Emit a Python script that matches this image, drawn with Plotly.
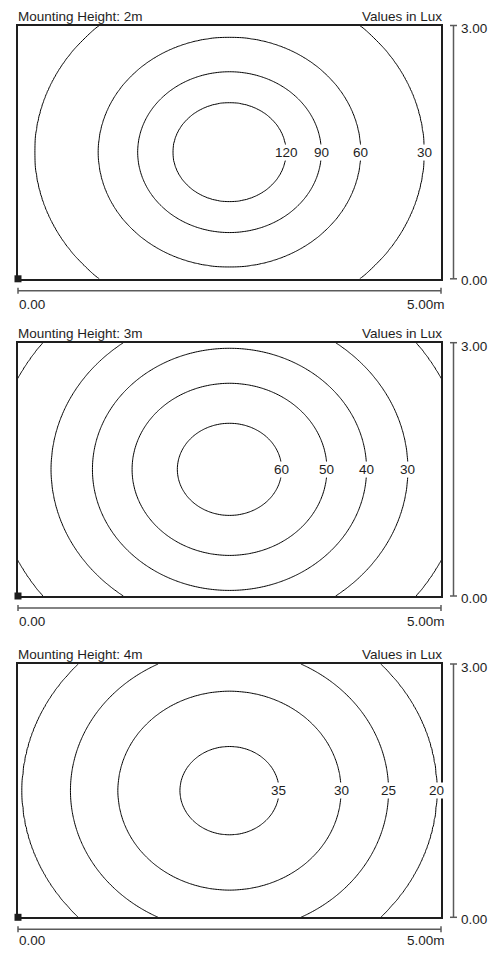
import numpy as np
import plotly.graph_objects as go

# page window and the browser's default 8px body margin
PAGE_W, PAGE_H = 497, 956
OFF = 8
W, H = PAGE_W - OFF, PAGE_H - 2 * OFF

# Room size (m)
room_len = 5.0
room_wid = 3.0

panel_titles = ["Mounting Height: 2m", "Mounting Height: 3m", "Mounting Height: 4m"]
units_text = "Values in Lux"

# Isolux levels (lux) and the half-width (m) of each isoline measured along the centre line
levels_2m = [120, 90, 60, 30]
halfwidth_2m = [0.67, 1.085, 1.55, 2.30]
levels_3m = [60, 50, 40, 30, 20]
halfwidth_3m = [0.617, 1.152, 1.62, 2.108, 2.78]
levels_4m = [35, 30, 25, 20]
halfwidth_4m = [0.585, 1.32, 1.88, 2.45]
# labelled levels per panel
labels_2m = [120, 90, 60, 30]
labels_3m = [60, 50, 40, 30]
labels_4m = [35, 30, 25, 20]
# estimated peak (centre) values, and isoline aspect (half-width / half-height)
peak = [150, 70, 40]
aspect = [1.14, 1.13, 1.12]

panels = [
    (levels_2m, halfwidth_2m, labels_2m),
    (levels_3m, halfwidth_3m, labels_3m),
    (levels_4m, halfwidth_4m, labels_4m),
]

# target page-pixel layout
left_px, right_px = 18.0, 441.0
tops_px = [25.5, 342.7, 664.0]
ph = 253.3
title_off = [9.5, 9.5, 9.5]
bottom_lab_off = [25.3, 25.5, 23.0]


def py(p):
    return 1 - (p - OFF) / H


def px(p):
    return (p - OFF) / W


fig = go.Figure()
xs = np.linspace(0, room_len, 251)
ys = np.linspace(0, room_wid, 151)
XX, YY = np.meshgrid(xs, ys)
cx, cy = room_len / 2, room_wid / 2

ink = "#1e1e1e"
dim = "#5a5a5a"
font = dict(family="Liberation Sans, Arial, sans-serif", size=13.5, color=ink)

shapes = []
annotations = []

for i, (lev, hw, labs) in enumerate(panels):
    n = i + 1
    xa = "x" if n == 1 else f"x{n}"
    ya = "y" if n == 1 else f"y{n}"
    r = np.sqrt((XX - cx) ** 2 + ((YY - cy) * aspect[i]) ** 2)
    step = lev[0] - lev[1]
    rr = [0.0] + hw + [hw[-1] + 1.5]
    zz = [peak[i]] + lev + [lev[-1] - step * 0.9]
    Z = np.interp(r, rr, zz)
    fig.add_trace(go.Contour(
        x=xs, y=ys, z=Z, xaxis=xa, yaxis=ya,
        contours=dict(coloring="lines", start=min(lev), end=max(lev), size=step, showlabels=False),
        line=dict(color="black", width=1, smoothing=1),
        colorscale=[[0, "black"], [1, "black"]], showscale=False, hoverinfo="skip",
    ))
    # origin marker
    fig.add_trace(go.Scatter(x=[0], y=[0], xaxis=xa, yaxis=ya, mode="markers",
                             marker=dict(symbol="square", size=7, color=ink),
                             cliponaxis=False, hoverinfo="skip", showlegend=False))
    # contour labels on the right-hand crossing of the centre line
    for lv in labs:
        k = lev.index(lv)
        annotations.append(dict(x=cx + hw[k], y=cy, xref=xa, yref=ya, text=str(lv),
                                showarrow=False, bgcolor="white", borderpad=0,
                                font=font, xanchor="center", yanchor="middle"))
    top = tops_px[i]
    bot = top + ph
    suffix = "" if n == 1 else str(n)
    fig.layout[f"xaxis{suffix}"] = dict(domain=[px(left_px), px(right_px)], range=[0, room_len],
                                        showgrid=False, zeroline=False, showticklabels=False, ticks="",
                                        showline=True, mirror=True, linecolor=ink, linewidth=1.6,
                                        anchor=ya, fixedrange=True)
    fig.layout[f"yaxis{suffix}"] = dict(domain=[py(bot), py(top)], range=[0, room_wid],
                                        showgrid=False, zeroline=False, showticklabels=False, ticks="",
                                        showline=True, mirror=True, linecolor=ink, linewidth=1.6,
                                        anchor=xa, fixedrange=True)
    # titles
    annotations.append(dict(x=px(16.5), y=py(top - title_off[i]), xref="paper", yref="paper",
                            text=panel_titles[i], showarrow=False, xanchor="left", yanchor="middle",
                            borderpad=0, font=font))
    annotations.append(dict(x=px(442.5), y=py(top - title_off[i]), xref="paper", yref="paper",
                            text=units_text, showarrow=False, xanchor="right", yanchor="middle",
                            borderpad=0, font=font))
    # bottom dimension line
    ydl = bot + 12
    shapes.append(dict(type="line", xref="paper", yref="paper", x0=px(left_px), x1=px(right_px),
                       y0=py(ydl), y1=py(ydl), line=dict(color=dim, width=1.5)))
    for xx in (left_px, right_px):
        shapes.append(dict(type="line", xref="paper", yref="paper", x0=px(xx), x1=px(xx),
                           y0=py(ydl - 3), y1=py(ydl + 3), line=dict(color=dim, width=1.5)))
    annotations.append(dict(x=px(17.5), y=py(bot + bottom_lab_off[i]), xref="paper", yref="paper",
                            text=f"{0:.2f}", showarrow=False, xanchor="left", yanchor="middle",
                            borderpad=0, font=font))
    annotations.append(dict(x=px(446), y=py(bot + bottom_lab_off[i]), xref="paper", yref="paper",
                            text=f"{room_len:.2f}m", showarrow=False, xanchor="right", yanchor="middle",
                            borderpad=0, font=font))
    # right dimension line
    xdl = 453.5
    shapes.append(dict(type="line", xref="paper", yref="paper", x0=px(xdl), x1=px(xdl),
                       y0=py(top), y1=py(bot), line=dict(color=dim, width=1.5)))
    for yy in (top, bot):
        shapes.append(dict(type="line", xref="paper", yref="paper", x0=px(xdl - 3.5), x1=px(xdl + 3.5),
                           y0=py(yy), y1=py(yy), line=dict(color=dim, width=1.5)))
    annotations.append(dict(x=px(460), y=py(top + 3.5), xref="paper", yref="paper",
                            text=f"{room_wid:.2f}", showarrow=False, xanchor="left", yanchor="middle",
                            borderpad=0, font=font))
    annotations.append(dict(x=px(460), y=py(bot + 2), xref="paper", yref="paper",
                            text=f"{0:.2f}", showarrow=False, xanchor="left", yanchor="middle",
                            borderpad=0, font=font))

fig.update_layout(width=W, height=H, margin=dict(l=0, r=0, t=0, b=0),
                  paper_bgcolor="white", plot_bgcolor="white", showlegend=False,
                  shapes=shapes, annotations=annotations, font=font)
fig.write_html("out.html")
